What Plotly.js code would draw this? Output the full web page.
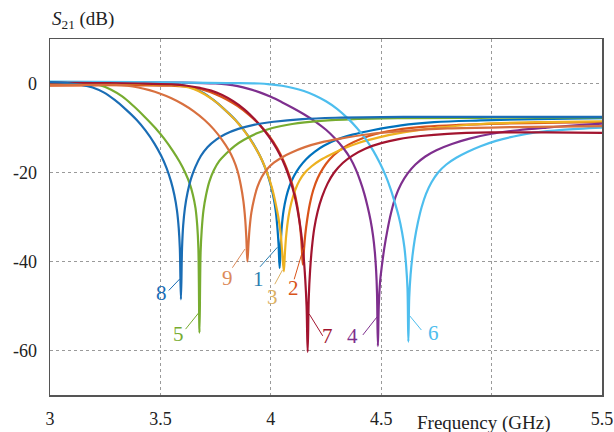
<!DOCTYPE html>
<html>
<head>
<meta charset="utf-8">
<script src="https://cdn.plot.ly/plotly-3.0.1.min.js"></script>
<style>html,body{margin:0;padding:0;background:#fff;}#chart{width:614px;height:432px;}</style>
</head>
<body>
<div id="chart"></div>
<script>
// Frequency (GHz) / S21 (dB)
const x1 = [3.0, 3.2, 3.4, 3.54, 3.59, 3.64, 3.69, 3.74, 3.79, 3.84, 3.88, 3.92, 3.95, 3.975, 3.995, 4.01, 4.022, 4.03, 4.035, 4.040, 4.045, 4.05, 4.058, 4.07, 4.085, 4.105, 4.13, 4.16, 4.2, 4.24, 4.3, 4.37, 4.46, 4.59, 4.74, 4.95, 5.2, 5.5];
const y1 = [0.3, 0.3, 0.1, 0.0, -0.3, -0.9, -2.0, -3.7, -5.8, -8.2, -10.6, -13.5, -16.2, -19.0, -22.0, -25.0, -28.5, -32.5, -36.0, -41.5, -36.0, -32.0, -28.5, -25.5, -23.0, -20.8, -18.8, -17.0, -15.3, -14.0, -12.6, -11.5, -10.5, -9.4, -8.7, -8.3, -8.0, -7.8];

const x2 = [3.0, 3.2, 3.4, 3.55, 3.65, 3.7, 3.75, 3.8, 3.85, 3.9, 3.95, 3.99, 4.03, 4.06, 4.085, 4.105, 4.12, 4.13, 4.137, 4.141, 4.145, 4.15, 4.156, 4.165, 4.177, 4.192, 4.212, 4.237, 4.267, 4.307, 4.35, 4.41, 4.48, 4.57, 4.7, 4.85, 5.05, 5.3, 5.5];
const y2 = [-0.5, -0.4, -0.4, -0.5, -0.9, -1.5, -2.4, -3.6, -5.1, -7.0, -9.3, -11.6, -14.6, -17.6, -20.8, -24.0, -27.5, -31.0, -34.5, -37.5, -40.7, -37.5, -34.0, -30.5, -27.0, -24.0, -21.3, -19.0, -17.0, -15.2, -13.8, -12.4, -11.3, -10.4, -9.7, -9.3, -9.0, -8.8, -8.7];

const x3 = [3.0, 3.2, 3.4, 3.55, 3.6, 3.65, 3.7, 3.75, 3.8, 3.85, 3.89, 3.93, 3.96, 3.985, 4.005, 4.02, 4.034, 4.044, 4.051, 4.059, 4.064, 4.07, 4.08, 4.093, 4.11, 4.13, 4.155, 4.185, 4.225, 4.27, 4.33, 4.4, 4.49, 4.6, 4.73, 4.95, 5.2, 5.5];
const y3 = [0.0, 0.0, -0.1, -0.3, -0.6, -1.2, -2.4, -4.1, -6.3, -8.8, -11.3, -14.4, -17.2, -20.3, -23.4, -26.5, -30.0, -33.5, -37.5, -42.2, -38.0, -34.0, -30.0, -26.8, -24.0, -21.8, -20.0, -18.6, -17.2, -16.0, -14.6, -13.3, -12.1, -11.0, -10.1, -9.1, -8.7, -8.5];

const x4 = [3.0, 3.3, 3.6, 3.75, 3.8, 3.85, 3.9, 3.95, 4.0, 4.05, 4.1, 4.15, 4.2, 4.25, 4.29, 4.33, 4.36, 4.385, 4.405, 4.423, 4.438, 4.452, 4.463, 4.471, 4.477, 4.481, 4.485, 4.489, 4.495, 4.503, 4.514, 4.528, 4.545, 4.565, 4.59, 4.62, 4.655, 4.7, 4.75, 4.82, 4.9, 5.0, 5.12, 5.25, 5.38, 5.5];
const y4 = [0.3, 0.3, 0.2, 0.0, -0.2, -0.6, -1.2, -2.0, -3.0, -4.2, -5.5, -6.9, -8.5, -10.4, -12.3, -14.6, -16.8, -19.3, -21.9, -24.7, -27.6, -30.8, -34.2, -37.8, -42.0, -47.0, -59.0, -50.0, -44.5, -41.0, -37.0, -33.0, -29.0, -25.5, -22.6, -20.2, -18.2, -16.4, -15.0, -13.6, -12.4, -11.3, -10.5, -9.9, -9.4, -9.0];

const x5 = [3.0, 3.1, 3.177, 3.227, 3.277, 3.327, 3.377, 3.427, 3.477, 3.517, 3.557, 3.587, 3.612, 3.632, 3.647, 3.659, 3.667, 3.672, 3.677, 3.682, 3.687, 3.695, 3.707, 3.722, 3.742, 3.767, 3.797, 3.837, 3.877, 3.937, 4.007, 4.097, 4.227, 4.377, 4.6, 5.0, 5.5];
const y5 = [0.2, 0.1, 0.0, -0.4, -1.4, -2.9, -5.0, -7.4, -10.0, -12.4, -15.2, -17.6, -20.0, -22.4, -25.0, -28.0, -32.0, -37.0, -56.0, -38.0, -33.0, -28.5, -25.0, -22.0, -19.5, -17.4, -15.8, -14.0, -12.7, -11.2, -10.0, -9.1, -8.4, -8.0, -7.8, -7.7, -7.6];

const x6 = [3.0, 3.4, 3.8, 3.95, 4.0, 4.05, 4.1, 4.15, 4.2, 4.25, 4.3, 4.35, 4.39, 4.43, 4.465, 4.495, 4.52, 4.542, 4.562, 4.58, 4.594, 4.605, 4.613, 4.619, 4.623, 4.627, 4.633, 4.641, 4.652, 4.666, 4.683, 4.703, 4.728, 4.758, 4.795, 4.84, 4.89, 4.95, 5.02, 5.1, 5.2, 5.32, 5.5];
const y6 = [0.4, 0.3, 0.1, 0.0, -0.2, -0.5, -1.0, -1.7, -2.7, -4.0, -5.7, -7.9, -10.0, -12.5, -15.2, -18.0, -20.7, -23.6, -26.8, -30.0, -33.3, -36.8, -41.0, -46.0, -58.0, -48.0, -43.0, -39.0, -35.0, -31.3, -27.8, -24.8, -22.2, -20.0, -18.2, -16.7, -15.4, -14.1, -12.9, -11.9, -11.0, -10.4, -9.9];

const x7 = [3.0, 3.2, 3.4, 3.55, 3.62, 3.68, 3.73, 3.78, 3.83, 3.88, 3.93, 3.97, 4.01, 4.04, 4.065, 4.088, 4.108, 4.125, 4.138, 4.148, 4.156, 4.162, 4.167, 4.172, 4.178, 4.186, 4.197, 4.212, 4.232, 4.257, 4.287, 4.327, 4.37, 4.43, 4.5, 4.58, 4.68, 4.8, 5.0, 5.25, 5.5];
const y7 = [0.2, 0.1, 0.0, -0.2, -0.5, -1.0, -1.6, -2.6, -4.0, -5.8, -8.2, -10.5, -13.3, -15.9, -18.6, -21.8, -25.3, -29.5, -33.8, -38.5, -44.0, -50.0, -60.3, -48.0, -42.0, -37.0, -32.5, -28.8, -25.5, -22.5, -20.0, -17.8, -16.2, -14.6, -13.4, -12.5, -11.8, -11.3, -11.0, -11.0, -11.1];

const x8 = [3.0, 3.05, 3.093, 3.143, 3.193, 3.243, 3.293, 3.343, 3.393, 3.433, 3.473, 3.503, 3.528, 3.548, 3.563, 3.575, 3.583, 3.588, 3.593, 3.598, 3.603, 3.611, 3.623, 3.638, 3.658, 3.683, 3.713, 3.753, 3.793, 3.853, 3.923, 4.013, 4.143, 4.293, 4.6, 5.0, 5.5];
const y8 = [0.3, 0.2, 0.0, -0.3, -0.9, -2.0, -3.7, -5.8, -8.2, -10.6, -13.5, -16.2, -19.0, -22.0, -25.0, -28.5, -32.5, -37.0, -48.5, -37.0, -32.0, -28.0, -24.5, -21.5, -18.8, -16.3, -14.3, -12.6, -11.4, -10.2, -9.3, -8.6, -8.0, -7.7, -7.5, -7.5, -7.5];

const x9 = [3.0, 3.1, 3.2, 3.3, 3.35, 3.4, 3.45, 3.5, 3.55, 3.6, 3.65, 3.7, 3.74, 3.78, 3.81, 3.83, 3.849, 3.864, 3.876, 3.884, 3.889, 3.894, 3.899, 3.904, 3.912, 3.924, 3.939, 3.959, 3.984, 4.014, 4.054, 4.094, 4.154, 4.224, 4.314, 4.444, 4.594, 4.8, 5.1, 5.5];
const y9 = [-0.3, -0.3, -0.3, -0.3, -0.5, -0.9, -1.5, -2.3, -3.3, -4.6, -6.2, -8.2, -10.2, -12.7, -15.0, -17.0, -19.6, -22.8, -26.5, -30.5, -34.5, -40.0, -36.0, -32.5, -29.0, -26.0, -23.3, -21.0, -19.2, -17.8, -16.5, -15.5, -14.3, -13.3, -12.4, -11.4, -10.7, -10.1, -9.8, -9.6];

const curveNames = ['1','2','3','4','5','6','7','8','9'];
const xTickVals = [3, 3.5, 4, 4.5, 5, 5.5];
const xTickText = ['3', '3.5', '4', '4.5', '', '5.5'];
const yTickVals = [-60, -40, -20, 0];
const yTickText = ['-60', '-40', '-20', '0'];

const colors = ['#0072BD','#D95319','#EDB120','#7E2F8E','#77AC30','#4DBEEE','#A2142F','#1a6db5','#d8703f'];
const xs = [x1,x2,x3,x4,x5,x6,x7,x8,x9];
const ys = [y1,y2,y3,y4,y5,y6,y7,y8,y9];

const traces = xs.map((x, i) => ({
  x: x, y: ys[i], type: 'scatter', mode: 'lines', name: curveNames[i],
  line: {color: colors[i], width: 2.2, shape: 'spline', smoothing: 1},
  hoverinfo: 'skip'
}));

// label positions and leader lines
const labels = [
  {n:'8', c:'#1a6db5', x:3.505, y:-47.0, l:[3.538,-46.5,3.588,-43.9]},
  {n:'5', c:'#77AC30', x:3.583, y:-56.2, l:[3.614,-55.2,3.674,-51.5]},
  {n:'9', c:'#dc8a5a', x:3.806, y:-43.8, l:[3.826,-41.4,3.883,-37.2]},
  {n:'1', c:'#2a7db0', x:3.944, y:-43.9, l:[3.951,-41.2,4.030,-36.8]},
  {n:'3', c:'#dcb062', x:4.008, y:-47.9, l:[4.018,-45.1,4.053,-41.9]},
  {n:'2', c:'#D95319', x:4.101, y:-46.0, l:[4.106,-44.0,4.149,-36.8]},
  {n:'7', c:'#A2142F', x:4.258, y:-56.8, l:[4.174,-51.8,4.235,-56.7]},
  {n:'4', c:'#7E2F8E', x:4.371, y:-56.7, l:[4.417,-56.5,4.482,-52.4]},
  {n:'6', c:'#4DBEEE', x:4.735, y:-56.1, l:[4.682,-55.4,4.629,-52.2]}
];

const serif = 'Liberation Serif';
const annotations = labels.map(o => ({
  x: o.x, y: o.y, xref: 'x', yref: 'y', text: o.n, showarrow: false,
  xanchor: 'center', yanchor: 'middle', font: {family: serif, size: 21, color: o.c}
}));
annotations.push({
  xref: 'paper', yref: 'paper', x: 0, y: 1.053, xanchor: 'left', yanchor: 'middle',
  text: '<i>S</i><sub>21</sub> (dB)', showarrow: false,
  font: {family: serif, size: 19, color: '#222'}
});
annotations.push({
  xref: 'paper', yref: 'paper', x: 0.786, y: -0.078, xanchor: 'center', yanchor: 'middle',
  text: 'Frequency (GHz)', showarrow: false,
  font: {family: serif, size: 19, color: '#222'}
});

const shapes = labels.map(o => ({
  type: 'line', xref: 'x', yref: 'y', x0: o.l[0], y0: o.l[1], x1: o.l[2], y1: o.l[3],
  line: {color: o.c, width: 1}
}));

const layout = {
  width: 614, height: 432,
  margin: {l: 50, r: 12, t: 39, b: 37},
  paper_bgcolor: '#fff', plot_bgcolor: '#fff',
  showlegend: false,
  font: {family: serif},
  xaxis: {
    range: [3, 5.5], tickvals: xTickVals, ticktext: xTickText,
    showgrid: true, gridcolor: '#9a9a9a', griddash: 'dot', gridwidth: 1,
    showline: true, linecolor: '#555', linewidth: 1.5, mirror: true,
    ticks: '', zeroline: false, ticklabelstandoff: 7,
    tickfont: {family: serif, size: 18, color: '#222'}
  },
  yaxis: {
    range: [-70, 10], tickvals: yTickVals, ticktext: yTickText,
    showgrid: true, gridcolor: '#9a9a9a', griddash: 'dot', gridwidth: 1,
    showline: true, linecolor: '#555', linewidth: 1.5, mirror: true,
    ticks: '', zeroline: false, ticklabelstandoff: 8,
    tickfont: {family: serif, size: 18, color: '#222'}
  },
  annotations: annotations,
  shapes: shapes
};

Plotly.newPlot('chart', traces, layout, {staticPlot: true, displayModeBar: false});
</script>
</body>
</html>
